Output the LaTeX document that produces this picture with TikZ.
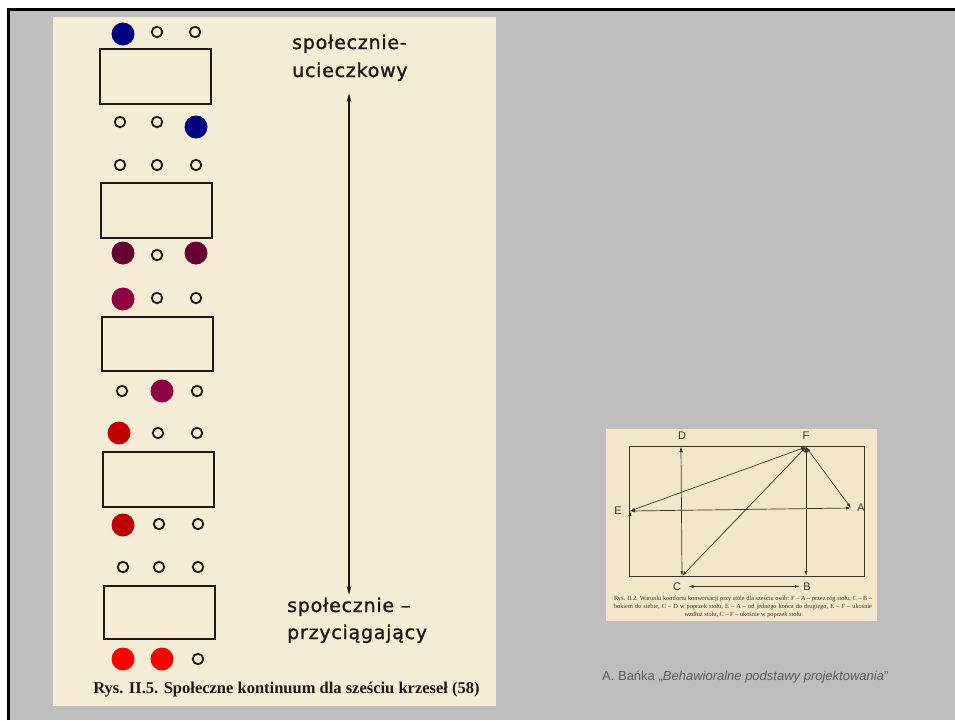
\documentclass[tikz,border=0pt]{standalone}
\usepackage{fontspec}
\setmainfont{Liberation Serif}
\setsansfont{Liberation Sans}
\newfontfamily\signfont[FakeBold=1.2,LetterSpace=4]{DejaVu Sans}
\usepackage{tikz}
\usetikzlibrary{arrows.meta}
\definecolor{slide}{RGB}{190,190,190}
\definecolor{paper}{RGB}{245,236,214}
\definecolor{paperb}{RGB}{243,229,200}
\definecolor{navyseat}{RGB}{0,0,128}
\definecolor{plum}{RGB}{102,0,51}
\definecolor{wine}{RGB}{143,0,64}
\definecolor{darkred}{RGB}{192,0,0}
\definecolor{brightred}{RGB}{255,0,0}
\definecolor{ink}{RGB}{30,25,20}
\definecolor{pencil}{RGB}{60,52,40}
\definecolor{credit}{RGB}{90,90,90}

\begin{document}
\begin{tikzpicture}[x=1pt, y=-1pt,
                chair/.style = {draw=ink, circle, line width=1.8pt, minimum size=10.5pt, inner sep=0pt},
                guest/.style = {circle, fill=#1, minimum size=23pt, inner sep=0pt},
                table/.style = {draw=ink, line width=1.4pt, minimum width=111pt, minimum height=55pt, inner sep=0pt},
                sign/.style = {anchor=base west, inner sep=0pt, text=ink, font=\signfont\fontsize{19}{19}\selectfont},
                seatlabel/.style = {text=pencil, font=\sffamily\fontsize{11}{11}\selectfont},
                talk/.style = {draw=pencil, line width=0.7pt, {Latex[length=5pt,width=3pt]}-{Latex[length=5pt,width=3pt]}}]
                \useasboundingbox (0,0) rectangle (955,720);
                \fill[white] (0,0) rectangle (955,720);
                \fill[slide] (7,8) rectangle (955,720);
                \draw[line width=3pt] (8.5,720) -- (8.5,9.5) -- (955,9.5);
                \fill[paper] (53,17) rectangle (496,706);
                \fill[paperb] (606,429) rectangle (877,621);
                \node[table] (t1) at (155.5,76.5) {};
                \node[table] (t2) at (156.5,210.5) {};
                \node[table, minimum height=54pt] (t3) at (157.5,344) {};
                \node[table] (t4) at (158.5,479.5) {};
                \node[table, minimum height=53pt] (t5) at (159.5,612.5) {};
                \node[guest=navyseat] (1) at (123,34) {};
                \node[chair] (2) at (157,32) {};
                \node[chair] (3) at (195,32) {};
                \node[chair] (4) at (120,122) {};
                \node[chair] (5) at (157,122) {};
                \node[guest=navyseat] (6) at (196,127) {};
                \node[chair] (7) at (120,165) {};
                \node[chair] (8) at (157,165) {};
                \node[chair] (9) at (196,165) {};
                \node[guest=plum] (10) at (123,253) {};
                \node[chair] (11) at (157,255) {};
                \node[guest=plum] (12) at (196,253) {};
                \node[guest=wine] (13) at (123,299) {};
                \node[chair] (14) at (157,298) {};
                \node[chair] (15) at (196,298) {};
                \node[chair] (16) at (122,391) {};
                \node[guest=wine] (17) at (162,391) {};
                \node[chair] (18) at (197,391) {};
                \node[guest=darkred] (19) at (119,433) {};
                \node[chair] (20) at (158,433) {};
                \node[chair] (21) at (197,433) {};
                \node[guest=darkred] (22) at (123,525) {};
                \node[chair] (23) at (159,524) {};
                \node[chair] (24) at (198,524) {};
                \node[chair] (25) at (123,567) {};
                \node[chair] (26) at (159,567) {};
                \node[chair] (27) at (198,567) {};
                \node[guest=brightred] (28) at (123,659) {};
                \node[guest=brightred] (29) at (162,659) {};
                \node[chair] (30) at (198,659) {};
                \node[sign] (up1) at (292,49) {społecznie-};
                \node[sign] (up2) at (292,77) {ucieczkowy};
                \node[sign] (down1) at (287,612) {społecznie –};
                \node[sign] (down2) at (287,639) {przyciągający};
                \coordinate (hi) at (349,93);
                \coordinate (lo) at (349,595);
                \draw[ink, line width=1.5pt, {Stealth[length=9pt,width=4.5pt]}-{Stealth[length=9pt,width=4.5pt]}] (hi) -- (lo);
                \node[anchor=base, inner sep=0pt, text=ink, font=\bfseries\fontsize{16.5}{16.5}\selectfont] (cap) at (286.5,693) {Rys. II.5. Społeczne kontinuum dla sześciu krzeseł (58)};
                \draw[pencil, line width=0.9pt] (629,446) rectangle (864,576);
                \coordinate (e) at (630,511);
                \coordinate (a) at (851,508);
                \coordinate (f) at (806,447);
                \coordinate (d) at (681,447);
                \coordinate (c) at (682,576);
                \coordinate (b) at (806,576);
                \node[seatlabel] (dl) at (682,436) {D};
                \node[seatlabel] (fl) at (806,436) {F};
                \node[seatlabel] (el) at (618,511) {E};
                \node[seatlabel] (al) at (861,508) {A};
                \node[seatlabel] (cl) at (677,586.5) {C};
                \node[seatlabel] (bl) at (807,586.5) {B};
                \path[talk] (d) edge (c);
                \path[talk] (f) edge (b);
                \path[talk] (f) edge (e);
                \path[talk] (f) edge (a);
                \path[talk] (f) edge (c);
                \path[talk] (e) edge (a);
                \path[talk, shorten <=4pt] (cl) edge (bl);
                \node[inner sep=0pt, align=center, text=pencil, font=\fontsize{6.3}{8}\selectfont] (legend) at (743,607) {\makebox[258pt][s]{Rys. II.2. Warunki komfortu konwersacji przy stole dla sześciu osób: F – A – przez róg stołu, C – B –}\\\makebox[258pt][s]{bokiem do siebie, C – D w poprzek stołu, E – A – od jednego końca do drugiego, E – F – ukośnie}\\wzdłuż stołu, C – F – ukośnie w poprzek stołu};
                \node[anchor=base west, inner sep=0pt, text=credit, font=\sffamily\fontsize{13}{13}\selectfont] (source) at (602,680) {A. Bańka „\textit{Behawioralne podstawy projektowania}”};
            \end{tikzpicture}
\end{document}
